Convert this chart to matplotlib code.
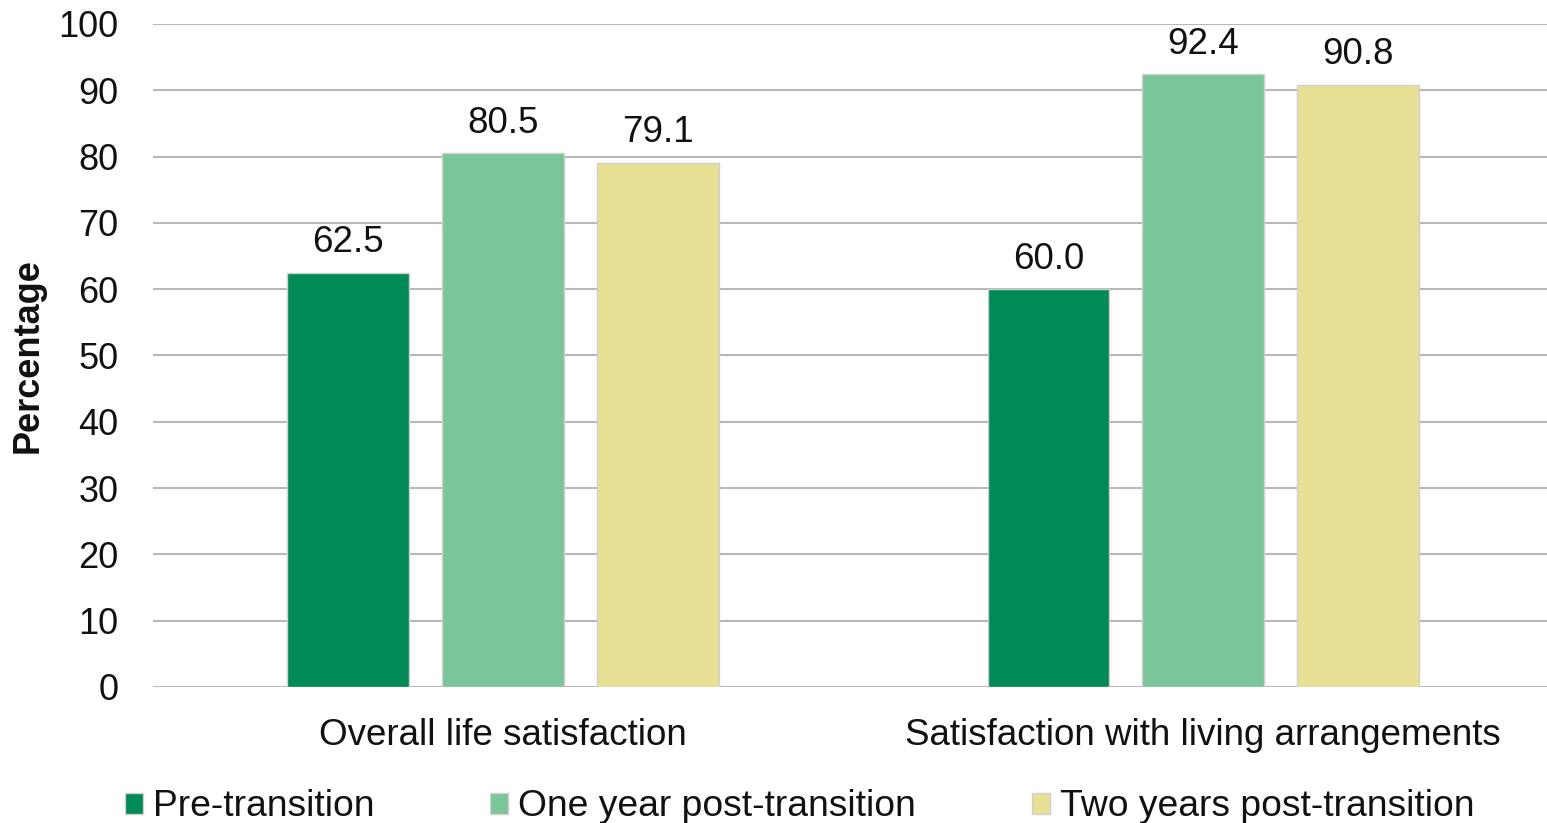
import matplotlib
matplotlib.use('Agg')
from matplotlib import pyplot as plt
from matplotlib.patches import Patch
import numpy as np

plt.rcParams['font.family'] = ['Liberation Sans', 'DejaVu Sans']

categories = ['Overall life satisfaction', 'Satisfaction with living arrangements']
series_names = ['Pre-transition', 'One year post-transition', 'Two years post-transition']
pre_transition = [62.5, 60.0]
one_year_post = [80.5, 92.4]
two_years_post = [79.1, 90.8]
y_ticks = [0, 10, 20, 30, 40, 50, 60, 70, 80, 90, 100]

colors = ['#008a55', '#7bc699', '#e8e094']
edge = '#d0d0d0'
txt = '#111111'

fig = plt.figure(figsize=(15.47, 8.23), dpi=100)
ax = fig.add_axes([153 / 1547, 136 / 823, 1394 / 1547, 663 / 823])

x = np.arange(len(categories))
width = 0.174
step = 0.221
all_series = [pre_transition, one_year_post, two_years_post]
for i, vals in enumerate(all_series):
    bars = ax.bar(x + (i - 1) * step, vals, width, color=colors[i],
                  edgecolor=edge, linewidth=1, zorder=3)
    for b, v in zip(bars, vals):
        ax.text(b.get_x() + b.get_width() / 2, v + 1.9, '%.1f' % v,
                ha='center', va='bottom', fontsize=26.5, color=txt)

ax.set_xlim(-0.5, 1.491)
ax.set_ylim(0, 100)
ax.set_yticks(y_ticks)
ax.set_xticks(x)
ax.set_xticklabels(categories, fontsize=26.5, color=txt)
ax.tick_params(axis='y', length=0, pad=25, labelsize=26, labelcolor=txt)
ax.tick_params(axis='x', length=0, pad=22)
ax.grid(axis='y', color='#b8b8b8', linewidth=1.5, zorder=0)
for s in ax.spines.values():
    s.set_visible(False)

ax.set_ylabel('Percentage', fontsize=26, fontweight='bold', color=txt)
ax.yaxis.set_label_coords(-0.077, 0.5)

handles = [Patch(facecolor=c, edgecolor=edge) for c in colors]
fig.legend(handles, series_names, loc='center left', bbox_to_anchor=(125 / 1547, 16 / 823),
           ncol=3, frameon=False, fontsize=26.8, handlelength=0.49, handleheight=0.49,
           handletextpad=0.27, columnspacing=3.1, borderpad=0, borderaxespad=0,
           labelcolor=txt)

fig.savefig('out.png', dpi=100)
